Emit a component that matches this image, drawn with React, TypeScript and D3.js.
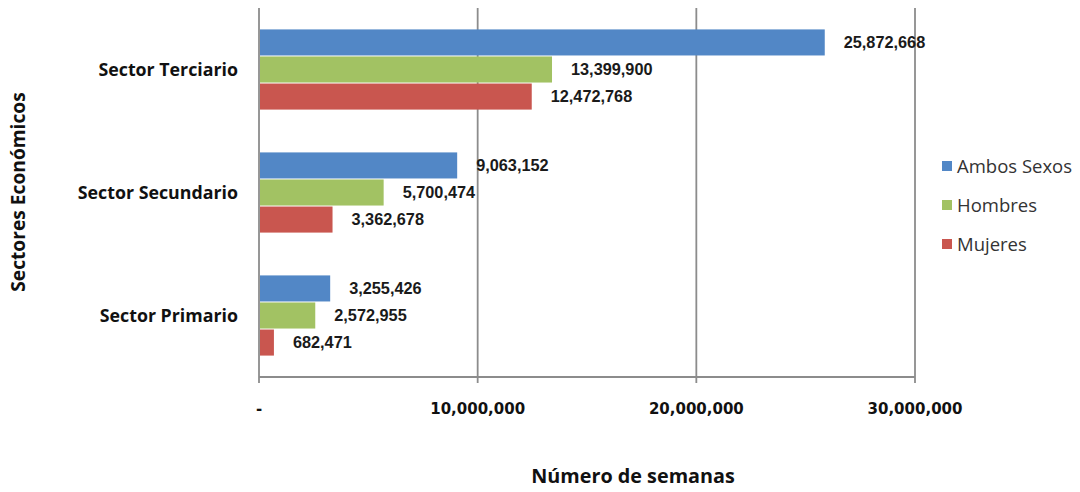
import React from "react";
import * as d3 from "d3";

const categories = ["Sector Terciario", "Sector Secundario", "Sector Primario"];
const seriesNames = ["Ambos Sexos", "Hombres", "Mujeres"];
const ambosSexos = [25872668, 9063152, 3255426];
const hombres = [13399900, 5700474, 2572955];
const mujeres = [12472768, 3362678, 682471];
const xTicks = [0, 10000000, 20000000, 30000000];
const colors = ["#5287C6", "#A2C263", "#C9564F"];

const W = 1080;
const H = 492;
const plotLeft = 259;
const plotRight = 915;
const plotTop = 8;
const plotBottom = 377;

export default function App() {
  const series = [ambosSexos, hombres, mujeres];
  const x = d3.scaleLinear().domain([0, 30000000]).range([plotLeft, plotRight]);
  const y = d3
    .scaleBand<string>()
    .domain(categories)
    .range([plotTop, plotBottom])
    .paddingInner(0.34)
    .paddingOuter(0.17);
  const inner = d3
    .scaleBand<string>()
    .domain(seriesNames)
    .range([0, y.bandwidth()]);
  const fmt = d3.format(",");
  const tickFmt = (v: number) => (v === 0 ? "-" : fmt(v));

  return (
    <svg
      width={W}
      height={H}
      style={{ position: "absolute", left: 0, top: 0, background: "#fff" }}
    >
      {xTicks.slice(1).map((t) => (
        <line
          key={"g" + t}
          x1={x(t)}
          x2={x(t)}
          y1={plotTop}
          y2={plotBottom + 6}
          stroke="#8C8C8C"
          strokeWidth={1.8}
        />
      ))}
      <line x1={plotLeft} x2={plotLeft} y1={plotTop} y2={plotBottom + 6} stroke="#8C8C8C" strokeWidth={1.8} />
      <line x1={plotLeft} x2={plotRight} y1={plotBottom} y2={plotBottom} stroke="#8C8C8C" strokeWidth={1.8} />

      {categories.map((c, ci) =>
        seriesNames.map((s, si) => {
          const v = series[si][ci];
          const by = (y(c) as number) + (inner(s) as number);
          const bh = inner.bandwidth();
          return (
            <g key={c + s}>
              <rect
                x={x(0) + 1}
                y={by + 0.5}
                width={x(v) - x(0) - 1}
                height={bh - 1}
                fill={colors[si]}
              />
              <text
                x={x(v) + 19}
                y={by + bh / 2}
                dy="0.36em"
                fontFamily="'Liberation Sans', Arial, sans-serif"
                fontWeight="bold"
                fontSize={16.3}
                fill="#1a1a1a"
              >
                {fmt(v)}
              </text>
            </g>
          );
        })
      )}

      {categories.map((c) => (
        <text
          key={"c" + c}
          x={238}
          y={(y(c) as number) + y.bandwidth() / 2}
          dy="0.36em"
          textAnchor="end"
          fontFamily="'Open Sans', sans-serif"
          fontWeight="bold"
          fontSize={17.8}
          fill="#111"
        >
          {c}
        </text>
      ))}

      {xTicks.map((t) => (
        <text
          key={"t" + t}
          x={x(t)}
          y={414}
          textAnchor="middle"
          fontFamily="'DejaVu Sans', Verdana, sans-serif"
          fontWeight="bold"
          fontSize={15}
          fill="#111"
        >
          {tickFmt(t)}
        </text>
      ))}

      <text
        x={633}
        y={483}
        textAnchor="middle"
        fontFamily="'Open Sans', sans-serif"
        fontWeight="bold"
        fontSize={19.8}
        fill="#111"
      >
        Número de semanas
      </text>
      <text
        transform={`translate(25, 192) rotate(-90)`}
        textAnchor="middle"
        fontFamily="'Open Sans', sans-serif"
        fontWeight="bold"
        fontSize={19.2}
        fill="#111"
      >
        Sectores Económicos
      </text>

      {seriesNames.map((s, i) => (
        <g key={"l" + s} transform={`translate(942, ${166 + i * 39})`}>
          <rect x={0} y={-5} width={10} height={10} fill={colors[i]} />
          <text
            x={15}
            y={0}
            dy="0.36em"
            fontFamily="'Open Sans', sans-serif"
            fontSize={18.5}
            fill="#333"
          >
            {s}
          </text>
        </g>
      ))}
    </svg>
  );
}
